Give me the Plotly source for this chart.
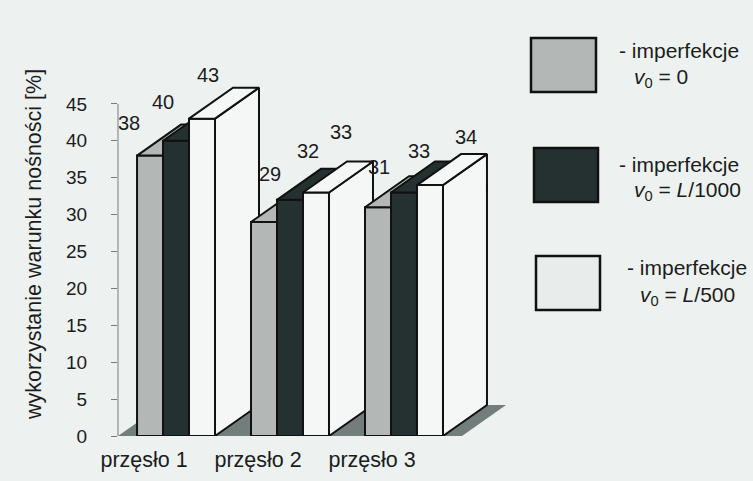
import plotly.graph_objects as go

# ---------------- data ----------------
categories = ["przęsło 1", "przęsło 2", "przęsło 3"]
v0_zero = [38, 29, 31]       # imperfekcje v0 = 0
v0_L1000 = [40, 32, 33]      # imperfekcje v0 = L/1000
v0_L500 = [43, 33, 34]       # imperfekcje v0 = L/500
y_ticks = [0, 5, 10, 15, 20, 25, 30, 35, 40, 45]
legend_line2 = ["<i>v</i><sub>0</sub> = 0",
                "<i>v</i><sub>0</sub> = <i>L</i>/1000",
                "<i>v</i><sub>0</sub> = <i>L</i>/500"]
legend_line1 = "- imperfekcje"
y_title = "wykorzystanie warunku nośności [%]"

series = [v0_zero, v0_L1000, v0_L500]

# ---------------- style ----------------
W, H = 753, 481
ML, MR, MT, MB = 118, 243, 67, 45
BG = "#edf2f0"
FACE = ["#b3b8b6", "#253131", "#f5f7f6"]
LEG_FACE = ["#b3b8b6", "#253131", "#e8edeb"]
FLOOR = "#737d7b"
EDGE = "#111111"
FONT = "Liberation Sans, Arial, sans-serif"
TXT = "#1c1c1c"
BAR_W = 0.228
DEPTH_X = 0.386
DEPTH_Y = 4.2
FLOOR_PAD = 0.167
X_RANGE = [-0.509, 2.930]
Y_RANGE = [0, 50]
CAT_SHIFT = -0.28
# label pixel shifts (x, y) relative to bar front-top-left corner
label_shift = [[(-8, 33), (0, 39), (19, 44)],
               [(19, 48), (31, 49), (38, 60)],
               [(14, 40), (28, 41), (49, 48)]]

PW = W - ML - MR
PH = H - MT - MB


def xp(px):
    return (px - ML) / PW


def yp(py):
    return (H - MB - py) / PH


fig = go.Figure()


def poly(xs, ys, color, line=True):
    fig.add_trace(go.Scatter(
        x=xs + [xs[0]], y=ys + [ys[0]], mode="lines", fill="toself",
        fillcolor=color,
        line=dict(color=EDGE if line else color, width=2 if line else 0),
        hoverinfo="skip", showlegend=False))


n = len(categories)
# floor
fx0 = 0 - 1.5 * BAR_W - FLOOR_PAD
fx1 = (n - 1) + 1.5 * BAR_W + FLOOR_PAD
poly([fx0, fx1, fx1 + DEPTH_X, fx0 + DEPTH_X], [0, 0, DEPTH_Y, DEPTH_Y], FLOOR, line=False)

annotations = []
for i in range(n):
    for j, s in enumerate(series):
        v = s[i]
        x0 = i - 1.5 * BAR_W + j * BAR_W
        x1 = x0 + BAR_W
        # side face
        poly([x1, x1 + DEPTH_X, x1 + DEPTH_X, x1], [0, DEPTH_Y, v + DEPTH_Y, v], FACE[j])
        # front face
        poly([x0, x1, x1, x0], [0, 0, v, v], FACE[j])
        # top face
        poly([x0, x1, x1 + DEPTH_X, x0 + DEPTH_X], [v, v, v + DEPTH_Y, v + DEPTH_Y], FACE[j])
        sx, sy = label_shift[i][j]
        annotations.append(dict(x=x0, y=v, xref="x", yref="y", text=str(v),
                                showarrow=False, xshift=sx, yshift=sy,
                                xanchor="center", yanchor="middle",
                                font=dict(size=20, color=TXT, family=FONT)))

# y axis line
shapes = [dict(type="line", xref="paper", yref="y", x0=0, x1=0, y0=0, y1=45,
               line=dict(color="#7a7a7a", width=1))]

# legend
leg_boxes = [(531, 38, 596, 92), (534, 148, 598, 202), (536, 256, 600, 310)]
leg_text1 = [(617, 50), (617, 164), (625, 267)]
leg_text2 = [(632, 78), (632, 191), (638, 296)]
for k in range(3):
    bx0, by0, bx1, by1 = leg_boxes[k]
    shapes.append(dict(type="rect", xref="paper", yref="paper",
                       x0=xp(bx0), x1=xp(bx1), y0=yp(by1), y1=yp(by0),
                       fillcolor=LEG_FACE[k], line=dict(color=EDGE, width=2.5)))
    annotations.append(dict(x=xp(leg_text1[k][0]), y=yp(leg_text1[k][1]), xref="paper", yref="paper",
                            text=legend_line1, showarrow=False, xanchor="left", yanchor="middle",
                            font=dict(size=21, color=TXT, family=FONT)))
    annotations.append(dict(x=xp(leg_text2[k][0]), y=yp(leg_text2[k][1]), xref="paper", yref="paper",
                            text=legend_line2[k], showarrow=False, xanchor="left", yanchor="middle",
                            font=dict(size=21, color=TXT, family=FONT)))

# y title
annotations.append(dict(x=xp(34), y=yp(245), xref="paper", yref="paper", text=y_title,
                        textangle=-90, showarrow=False, xanchor="center", yanchor="middle",
                        font=dict(size=21.5, color=TXT, family=FONT)))

fig.update_layout(
    width=W, height=H, margin=dict(l=ML, r=MR, t=MT, b=MB, autoexpand=False),
    paper_bgcolor=BG, plot_bgcolor=BG, showlegend=False,
    font=dict(family=FONT, color=TXT),
    xaxis=dict(range=X_RANGE, showgrid=False, zeroline=False, showline=False,
               tickvals=[i + CAT_SHIFT for i in range(n)], ticktext=categories,
               ticks="", tickfont=dict(size=21.5, color=TXT, family=FONT),
               ticklabelstandoff=8, fixedrange=True, automargin=False),
    yaxis=dict(range=Y_RANGE, showgrid=False, zeroline=False, showline=False,
               tickvals=y_ticks, ticks="outside", ticklen=6, tickwidth=1,
               tickcolor="#7a7a7a", tickfont=dict(size=19, color=TXT, family=FONT),
               ticklabelstandoff=20, fixedrange=True, automargin=False),
    shapes=shapes, annotations=annotations,
)

fig.write_html("out.html")
